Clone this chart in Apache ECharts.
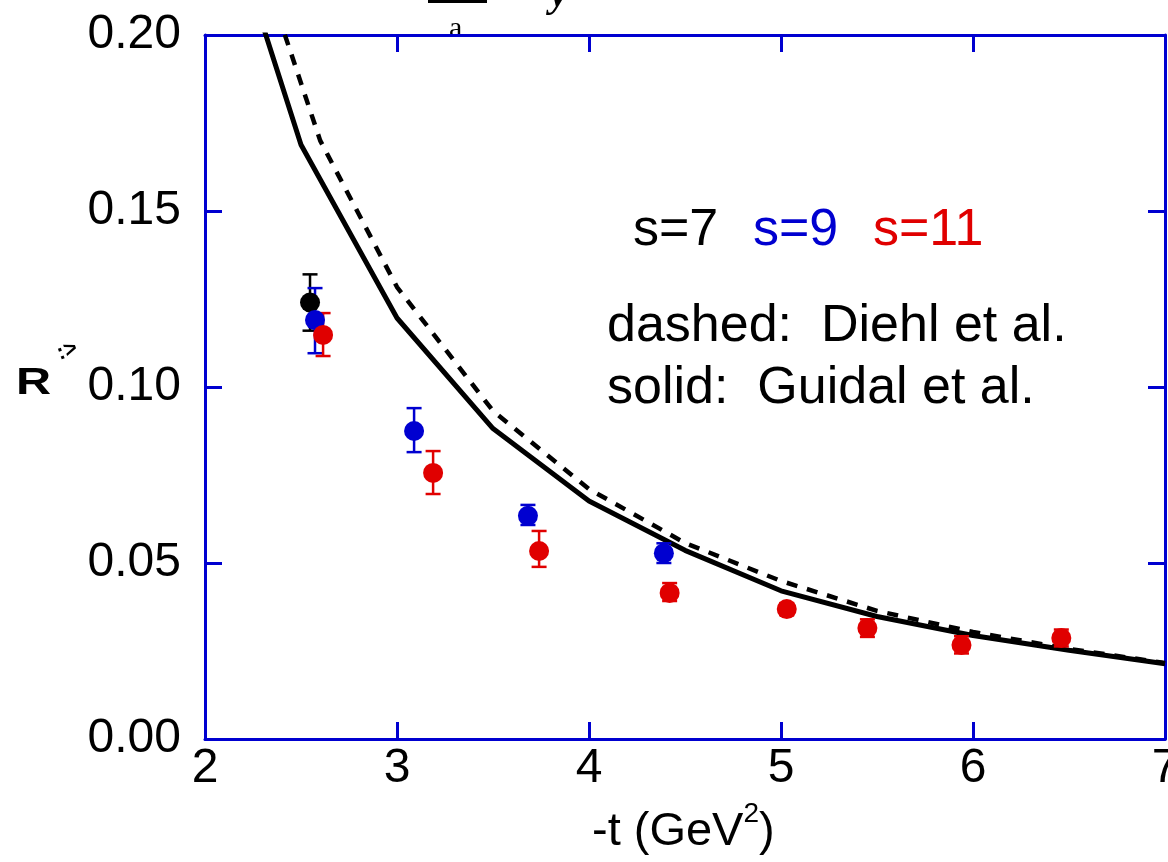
<!DOCTYPE html>
<html>
<head>
<meta charset="utf-8">
<style>
  html, body { margin: 0; padding: 0; background: #fff; overflow: hidden; }
  #chart { width: 1168px; height: 862px; }
</style>
<script src="https://cdn.jsdelivr.net/npm/echarts@6/dist/echarts.min.js"></script>
</head>
<body>
<div id="chart"></div>
<script>
// measured points: [ -t, R, low, high ]
var s7 = [[2.547, 0.124, 0.116, 0.132]];
var s9 = [
  [2.573, 0.119, 0.1096, 0.1281],
  [3.089, 0.0875, 0.0815, 0.094],
  [3.682, 0.0634, 0.0608, 0.0665],
  [4.39, 0.0528, 0.0500, 0.0556]
];
var s11 = [
  [2.615, 0.1148, 0.1088, 0.121],
  [3.188, 0.0756, 0.0696, 0.0818],
  [3.74, 0.0534, 0.0489, 0.0591],
  [4.42, 0.0415, 0.0392, 0.0443],
  [5.03, 0.0369, 0.0352, 0.0386],
  [5.45, 0.0315, 0.029, 0.034],
  [5.94, 0.0267, 0.0243, 0.0292],
  [6.46, 0.0287, 0.0263, 0.0311]
];

// model curves
var guidalT = [2.0, 2.5, 3.0, 3.5, 4.0, 4.5, 5.0, 5.5, 6.0, 6.5, 7.0];
var guidalR = [0.254, 0.1688, 0.1196, 0.0882, 0.0676, 0.0536, 0.0421, 0.0348, 0.0294, 0.0252, 0.0214];
var diehlT = [2.0, 2.6, 3.0, 3.5, 4.0, 4.5, 5.0, 5.5, 6.0, 6.5, 7.0];
var diehlR = [0.268, 0.170, 0.1284, 0.0932, 0.0710, 0.0557, 0.0449, 0.0364, 0.0304, 0.0256, 0.0216];

var xTicks = [2, 3, 4, 5, 6, 7];
var yTicks = [0, 0.05, 0.10, 0.15, 0.20];

var BLUE = '#0000d0', RED = '#e00000', BLACK = '#000000';
var FONT = 'Liberation Sans';

function pairs(t, r) {
  return t.map(function (v, i) { return [v, r[i]]; });
}

function errBars(color) {
  return function (params, api) {
    var x = api.value(0);
    var top = api.coord([x, api.value(3)]);
    var bot = api.coord([x, api.value(2)]);
    var w = 7.5;
    var st = { stroke: color, lineWidth: 2.5 };
    return {
      type: 'group',
      children: [
        { type: 'line', shape: { x1: top[0], y1: top[1], x2: bot[0], y2: bot[1] }, style: st },
        { type: 'line', shape: { x1: top[0] - w, y1: top[1], x2: top[0] + w, y2: top[1] }, style: st },
        { type: 'line', shape: { x1: bot[0] - w, y1: bot[1], x2: bot[0] + w, y2: bot[1] }, style: st }
      ]
    };
  };
}

var myChart = echarts.init(document.getElementById('chart'));

var axisLine = { show: true, onZero: false, lineStyle: { color: BLUE, width: 3 } };
var axisTick = { show: true, inside: true, length: 17, lineStyle: { color: BLUE, width: 3 } };

myChart.setOption({
  animation: false,
  backgroundColor: '#fff',
  // labels may run past the canvas edge ("7" is cut off on the right)
  grid: { left: 205, right: 3, top: 35, bottom: 123, outerBoundsMode: 'none', containLabel: false },
  xAxis: [{
    type: 'value', min: xTicks[0], max: xTicks[xTicks.length - 1], interval: 1,
    position: 'bottom',
    axisLine: axisLine, axisTick: axisTick, splitLine: { show: false },
    axisLabel: { color: BLACK, fontSize: 48, fontFamily: FONT, margin: 6, showMaxLabel: true, hideOverlap: false }
  }, {
    type: 'value', min: xTicks[0], max: xTicks[xTicks.length - 1], interval: 1,
    position: 'top',
    axisLine: axisLine, axisTick: axisTick, splitLine: { show: false },
    axisLabel: { show: false }
  }],
  yAxis: [{
    type: 'value', min: yTicks[0], max: yTicks[yTicks.length - 1], interval: 0.05,
    position: 'left',
    axisLine: axisLine, axisTick: axisTick, splitLine: { show: false },
    axisLabel: {
      color: BLACK, fontSize: 48, fontFamily: FONT, margin: 24,
      formatter: function (v) { return v.toFixed(2); }
    }
  }, {
    type: 'value', min: yTicks[0], max: yTicks[yTicks.length - 1], interval: 0.05,
    position: 'right',
    axisLine: axisLine, axisTick: axisTick, splitLine: { show: false },
    axisLabel: { show: false }
  }],
  series: [
    {
      type: 'line', data: pairs(guidalT, guidalR), showSymbol: false, clip: true,
      lineStyle: { color: BLACK, width: 5 }, z: 3
    },
    {
      type: 'line', data: pairs(diehlT, diehlR), showSymbol: false, clip: true,
      lineStyle: { color: BLACK, width: 4.5, type: [11, 10] }, z: 3
    },
    { type: 'custom', renderItem: errBars(BLACK), data: s7, z: 4 },
    { type: 'custom', renderItem: errBars(BLUE), data: s9, z: 4 },
    { type: 'custom', renderItem: errBars(RED), data: s11, z: 4 },
    { type: 'scatter', data: s7, symbol: 'circle', symbolSize: 20, itemStyle: { color: BLACK, opacity: 1 }, z: 5 },
    { type: 'scatter', data: s9, symbol: 'circle', symbolSize: 20, itemStyle: { color: BLUE, opacity: 1 }, z: 5 },
    { type: 'scatter', data: s11, symbol: 'circle', symbolSize: 20, itemStyle: { color: RED, opacity: 1 }, z: 5 }
  ],
  graphic: [
    // cropped title pieces at the top edge
    { type: 'rect', shape: { x: 428, y: -2, width: 59, height: 5 }, style: { fill: BLACK } },
    { type: 'text', x: 449, y: 14, style: { text: 'a', font: '30px "Liberation Serif"', fill: BLACK } },
    { type: 'text', x: 550, y: -24, style: { text: 'y', font: 'italic bold 40px "Liberation Serif"', fill: BLACK } },
    // y-axis name
    { type: 'text', x: 16, y: 366, scaleX: 1.35, style: { text: 'R', font: 'bold 36px "Liberation Sans"', fill: BLACK } },
    { type: 'text', x: 54, y: 344, rotation: 0.35, style: { text: ':>', font: 'bold 22px "Liberation Sans"', fill: BLACK } },
    // legend text
    { type: 'text', x: 633, y: 257, style: { text: 's=7', font: '52px "Liberation Sans"', fill: BLACK, textVerticalAlign: 'bottom' } },
    { type: 'text', x: 753, y: 257, style: { text: 's=9', font: '52px "Liberation Sans"', fill: BLUE, textVerticalAlign: 'bottom' } },
    { type: 'text', x: 873, y: 257, style: { text: 's=11', font: '52px "Liberation Sans"', fill: RED, textVerticalAlign: 'bottom' } },
    { type: 'text', x: 607, y: 353, style: { text: 'dashed:  Diehl et al.', font: '52px "Liberation Sans"', fill: BLACK, textVerticalAlign: 'bottom' } },
    { type: 'text', x: 607, y: 415, style: { text: 'solid:  Guidal et al.', font: '52px "Liberation Sans"', fill: BLACK, textVerticalAlign: 'bottom' } },
    // x-axis name
    {
      type: 'text', x: 592, y: 800,
      style: {
        text: '{a|-t (GeV}{s|2}{a|)}',
        rich: {
          a: { fontSize: 47, fontFamily: FONT, fill: BLACK, verticalAlign: 'bottom', lineHeight: 56 },
          s: { fontSize: 28, fontFamily: FONT, fill: BLACK, verticalAlign: 'top', lineHeight: 56, padding: [0, 0, 26, 0] }
        }
      }
    }
  ]
});
</script>
</body>
</html>
